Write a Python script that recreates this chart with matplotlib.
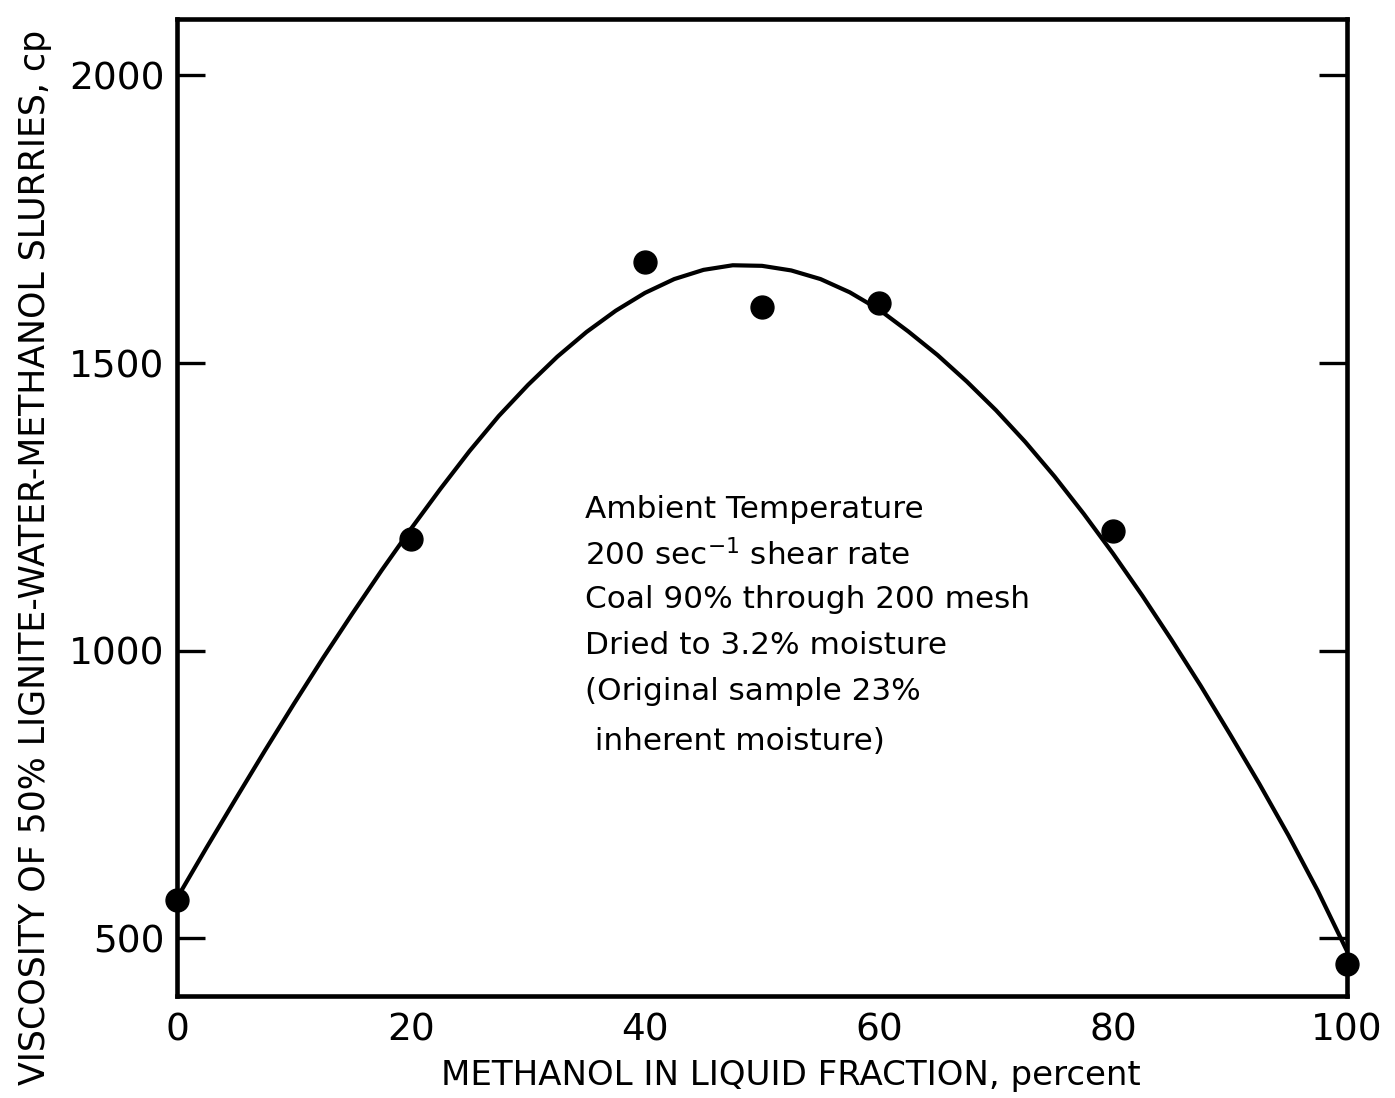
import matplotlib
matplotlib.use("Agg")
import matplotlib.pyplot as plt

# Measured data points (methanol %, viscosity cp)
methanol_pct = [0, 20, 40, 50, 60, 80, 100]
viscosity_cp = [566, 1195, 1675, 1597, 1605, 1208, 455]

# Fitted curve
curve_x = [0, 2.5, 5, 7.5, 10, 12.5, 15, 17.5, 20, 22.5, 25, 27.5, 30, 32.5, 35,
           37.5, 40, 42.5, 45, 47.5, 50, 52.5, 55, 57.5, 60, 62.5, 65, 67.5, 70,
           72.5, 75, 77.5, 80, 82.5, 85, 87.5, 90, 92.5, 95, 97.5, 100]
curve_y = [570, 657, 742, 826, 908, 988, 1065, 1140, 1212, 1281, 1347, 1408, 1462,
           1511, 1554, 1591, 1622, 1646, 1662, 1670, 1669, 1661, 1646, 1623, 1593,
           1555, 1514, 1468, 1418, 1363, 1303, 1238, 1169, 1096, 1019, 939, 855,
           769, 679, 583, 478]

x_ticks = [0, 20, 40, 60, 80, 100]
y_ticks = [500, 1000, 1500, 2000]

annotation_lines = [
    "Ambient Temperature",
    "200 sec$^{-1}$ shear rate",
    "Coal 90% through 200 mesh",
    "Dried to 3.2% moisture",
    "(Original sample 23%",
    " inherent moisture)",
]

plt.rcParams['font.family'] = ['DejaVu Sans']
plt.rcParams['mathtext.fontset'] = 'dejavusans'

fig = plt.figure(figsize=(13.95, 10.98), dpi=100)
L, R, T, B = 177, 1347, 19, 996
W, H = 1395, 1098
ax = fig.add_axes([L / W, 1 - B / H, (R - L) / W, (B - T) / H])

ax.plot(curve_x, curve_y, color='black', lw=3.0, solid_capstyle='round',
        solid_joinstyle='round', zorder=2)
ax.plot(methanol_pct, viscosity_cp, 'o', color='black', ms=16.5, zorder=3, clip_on=False)

ax.set_xlim(0, 100)
ax.set_ylim(400, 2098)

for s in ax.spines.values():
    s.set_linewidth(3.3)

ax.set_xticks(x_ticks)
ax.set_yticks(y_ticks)
ax.tick_params(axis='both', direction='in', length=20, width=2.4, labelsize=27,
               top=True, right=True, labeltop=False, labelright=False)
ax.tick_params(axis='x', pad=12)
ax.tick_params(axis='y', pad=9)
# hide end ticks at 0 and 100 on x
for t in ax.xaxis.get_major_ticks():
    if t.get_loc() in (0, 100):
        t.tick1line.set_visible(False)
        t.tick2line.set_visible(False)

ax.set_xlabel("METHANOL IN LIQUID FRACTION, percent", fontsize=24.5)
ax.xaxis.set_label_coords((791 - L) / (R - L), (B - 1076) / (B - T))
ax.xaxis.label.set_va('center')
ax.set_ylabel("VISCOSITY OF 50% LIGNITE-WATER-METHANOL SLURRIES, cp", fontsize=25)
ax.yaxis.set_label_coords((35 - L) / (R - L), (B - 557) / (B - T))
ax.yaxis.label.set_va('center')

line_y = [510, 555, 599, 645, 692, 741]
for txt, yy in zip(annotation_lines, line_y):
    ax.text((585 - L) / (R - L), (B - yy) / (B - T), txt, transform=ax.transAxes,
            fontsize=22.4, ha='left', va='center')

fig.savefig("out.png", dpi=100)
